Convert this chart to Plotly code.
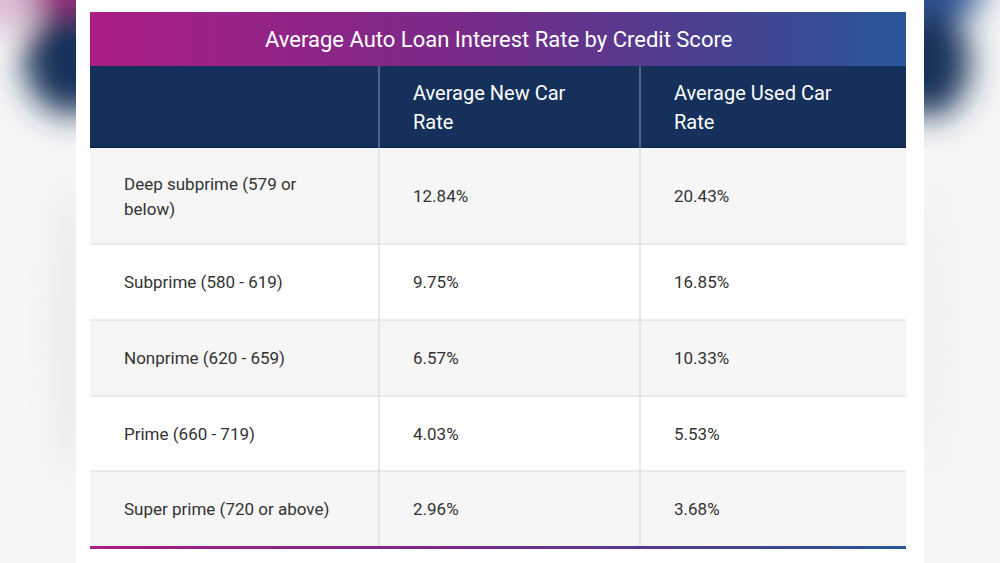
import base64
import plotly.graph_objects as go

# Table content
TITLE = "Average Auto Loan Interest Rate by Credit Score"
HEADERS = ["", "Average New Car<br>Rate", "Average Used Car<br>Rate"]
CREDIT_TIERS = [
    "Deep subprime (579 or<br>below)",
    "Subprime (580 - 619)",
    "Nonprime (620 - 659)",
    "Prime (660 - 719)",
    "Super prime (720 or above)",
]
NEW_CAR_RATES = [12.84, 9.75, 6.57, 4.03, 2.96]
USED_CAR_RATES = [20.43, 16.85, 10.33, 5.53, 3.68]

# Geometry (canvas units, y grows downward)
W, H = 1000, 563
PANEL = (76, 924)
COL_EDGES = [90, 379, 640, 906]
TITLE_TOP, HEADER_TOP, BODY_TOP = 12, 66, 148
ROW_HEIGHTS = [96, 76, 76, 75, 75]
PAD = 33
FONT = "Roboto, 'Open Sans', sans-serif"
GRAD = [[0, "#AB1D84"], [0.45, "#7A2A88"], [0.75, "#4A3F90"], [1, "#28579A"]]
NAVY = "#15305A"

body_cols = [
    CREDIT_TIERS,
    [f"{v:.2f}%" for v in NEW_CAR_RATES],
    [f"{v:.2f}%" for v in USED_CAR_RATES],
]

row_tops = [BODY_TOP]
for h in ROW_HEIGHTS:
    row_tops.append(row_tops[-1] + h)
BODY_BOTTOM = row_tops[-1]

# blurred photo background on the sides
svg = f'''<svg xmlns="http://www.w3.org/2000/svg" width="{W}" height="{H}" viewBox="0 0 {W} {H}">
<defs><filter id="b" x="-100%" y="-100%" width="300%" height="300%"><feGaussianBlur stdDeviation="16"/></filter></defs>
<rect width="{W}" height="{H}" fill="#f6f6f6"/>
<g filter="url(#b)">
<ellipse cx="0" cy="0" rx="40" ry="30" fill="#dcbcd4"/>
<ellipse cx="70" cy="-12" rx="45" ry="26" fill="#a2237f"/>
<ellipse cx="72" cy="60" rx="48" ry="55" fill="#17315a"/>
<ellipse cx="70" cy="330" rx="12" ry="150" fill="#e6e6e6"/>
<ellipse cx="935" cy="-10" rx="50" ry="30" fill="#2d5596"/>
<ellipse cx="928" cy="62" rx="42" ry="55" fill="#17315a"/>
<ellipse cx="932" cy="330" rx="10" ry="150" fill="#ececec"/>
</g></svg>'''
bg_src = "data:image/svg+xml;base64," + base64.b64encode(svg.encode()).decode()

fig = go.Figure()
shapes = []
annotations = []


def rect(x0, x1, y0, y1, color):
    shapes.append(dict(type="rect", xref="x", yref="y", x0=x0, x1=x1, y0=y0, y1=y1,
                       fillcolor=color, line=dict(width=0), layer="below"))


def line(x0, x1, y0, y1, color, width=1):
    shapes.append(dict(type="line", xref="x", yref="y", x0=x0, x1=x1, y0=y0, y1=y1,
                       line=dict(color=color, width=width), layer="below"))


def text(label, x, yc, size, color, gap, anchor="left"):
    lines = label.split("<br>")
    n = len(lines)
    for i, ln in enumerate(lines):
        annotations.append(dict(
            x=x, y=yc + (i - (n - 1) / 2) * gap, xref="x", yref="y",
            text=ln, showarrow=False, xanchor=anchor, yanchor="middle",
            font=dict(family=FONT, size=size, color=color),
        ))


# white panel
rect(PANEL[0], PANEL[1], 0, H, "#FFFFFF")

# gradient title bar and bottom rule
for y0, y1 in [(TITLE_TOP, HEADER_TOP), (BODY_BOTTOM, BODY_BOTTOM + 3)]:
    fig.add_trace(go.Scatter(
        x=[COL_EDGES[0], COL_EDGES[-1], COL_EDGES[-1], COL_EDGES[0], COL_EDGES[0]],
        y=[y0, y0, y1, y1, y0],
        mode="lines", fill="toself", line=dict(width=0),
        fillgradient=dict(type="horizontal", colorscale=GRAD),
        hoverinfo="skip", showlegend=False,
    ))
text(TITLE, (COL_EDGES[0] + COL_EDGES[-1]) / 2, (TITLE_TOP + HEADER_TOP) / 2,
     22, "#FFFFFF", 26, anchor="center")

# header
rect(COL_EDGES[0], COL_EDGES[-1], HEADER_TOP, BODY_TOP, NAVY)
line(COL_EDGES[0], COL_EDGES[-1], BODY_TOP - 0.5, BODY_TOP - 0.5, "#0C2244", 1.5)
for j, label in enumerate(HEADERS):
    if j > 0:
        line(COL_EDGES[j], COL_EDGES[j], HEADER_TOP, BODY_TOP, "#8C98AE", 1)
    if label:
        text(label, COL_EDGES[j] + PAD - 1, (HEADER_TOP + BODY_TOP) / 2, 20, "#FFFFFF", 29)

# body rows
for i in range(len(CREDIT_TIERS)):
    y0, y1 = row_tops[i], row_tops[i + 1]
    rect(COL_EDGES[0], COL_EDGES[-1], y0, y1, "#F6F6F6" if i % 2 == 0 else "#FFFFFF")
    if i > 0:
        line(COL_EDGES[0], COL_EDGES[-1], y0, y0, "#DADADA", 1.2)
    for j, col in enumerate(body_cols):
        text(col[i], COL_EDGES[j] + PAD - 1, (y0 + y1) / 2, 17, "#333333", 25)
for j in (1, 2):
    line(COL_EDGES[j], COL_EDGES[j], BODY_TOP, BODY_BOTTOM, "#DADADA", 1.2)

fig.update_layout(
    width=W, height=H,
    margin=dict(l=0, r=0, t=0, b=0),
    paper_bgcolor="#F6F6F6", plot_bgcolor="rgba(0,0,0,0)",
    xaxis=dict(range=[0, W], visible=False, fixedrange=True),
    yaxis=dict(range=[H, 0], visible=False, fixedrange=True),
    shapes=shapes, annotations=annotations,
    images=[dict(source=bg_src, xref="paper", yref="paper", x=0, y=1,
                 sizex=1, sizey=1, xanchor="left", yanchor="top",
                 sizing="stretch", layer="below")],
    showlegend=False,
)

fig.write_html(
    "out.html",
    config={"displayModeBar": False},
    post_script="document.body.style.margin='0';document.body.style.overflow='hidden';",
)
